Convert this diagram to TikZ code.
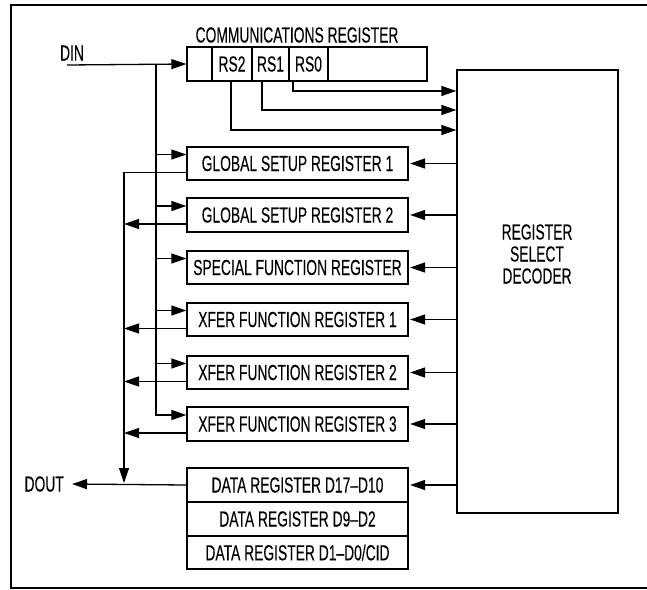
\documentclass[tikz,border=0pt]{standalone}
\usepackage{fontspec}
\setmainfont{Liberation Sans}[FakeStretch=0.635,FakeBold=0.2]
\usetikzlibrary{arrows.meta,calc}
\begin{document}
\begin{tikzpicture}[x=1pt,y=-1pt,
  font=\fontsize{21.8}{22}\selectfont,
  ln/.style={line width=1.3pt, line join=miter},
  arr/.style={ln, -{Triangle[length=15pt,width=10pt]}},
  box/.style={draw, line width=1.3pt, inner sep=0pt, minimum height=33pt},
  reg/.style={box, minimum width=221pt},
  lbl/.style={inner sep=0pt}
]
\useasboundingbox (0,0) rectangle (647,589);
\draw[line width=1.6pt] (648,5) -- (11,5) -- (11,588) -- (648,588);

% communications register
\node[lbl] (title) at (297,35) {COMMUNICATIONS REGISTER};
\node[box, minimum width=25pt, minimum height=34pt] (c0) at (199.5,64) {};
\node[box, minimum width=40pt, minimum height=34pt] (c1) at (232,64) {RS2};
\node[box, minimum width=37pt, minimum height=34pt] (c2) at (270.5,64) {RS1};
\node[box, minimum width=39pt, minimum height=34pt] (c3) at (308.5,64) {RS0};
\node[box, minimum width=99pt, minimum height=34pt] (c4) at (377.5,64) {};

% registers
\node[reg] (gsr1) at (297.5,163.5) {GLOBAL SETUP REGISTER 1};
\node[reg, minimum height=34pt] (gsr2) at (297.5,215) {GLOBAL SETUP REGISTER 2};
\node[reg] (sfr) at (297.5,267.5) {SPECIAL FUNCTION REGISTER};
\node[reg] (x1) at (297.5,319.5) {XFER FUNCTION REGISTER 1};
\node[reg] (x2) at (297.5,372.5) {XFER FUNCTION REGISTER 2};
\node[reg, minimum height=34pt] (x3) at (297.5,424) {XFER FUNCTION REGISTER 3};
\node[reg, minimum height=34pt] (d1) at (297.5,485) {DATA REGISTER D17--D10};
\node[reg, minimum height=34pt] (d2) at (297.5,519) {DATA REGISTER D9--D2};
\node[reg] (d3) at (297.5,552.5) {DATA REGISTER D1--D0/CID};

% decoder
\node[box, minimum width=161pt, minimum height=443pt] (dec) at (537.5,291.5) {};
\node[lbl, align=center] (declbl) at (537,254) {REGISTER\\SELECT\\DECODER};

% DIN / DOUT
\node[lbl] (din) at (72,53) {DIN};
\coordinate (dinstart) at (67,65);
\node[lbl, anchor=east, inner xsep=8pt] (dout) at (72,484) {DOUT};

% input bus
\coordinate (bus) at (156,65);
\draw[arr] (dinstart) -- (c0.west);
\foreach \r in {gsr1,gsr2,sfr,x1,x2,x3}{
  \coordinate (\r in) at ([yshift=9pt]\r.west);
}
\draw[arr] (bus) |- (x3in);
\foreach \r in {gsr1,gsr2,sfr,x1,x2}{
  \draw[arr] (bus |- \r in) -- (\r in);
}

% output bus
\coordinate (obus) at (124,173);
\coordinate (obusend) at (124,483);
\foreach \r in {gsr1,gsr2,x1,x2,x3}{
  \coordinate (\r out) at ([yshift=-9pt]\r.west);
}
\draw[arr] (gsr1out) -| (obusend);
\foreach \r in {gsr2,x1,x2,x3}{
  \draw[arr] (\r out) -- (obus |- \r out);
}
\draw[arr] (d1.west) -- (dout.east);

% RS lines to decoder
\coordinate (rs0y) at (0,91);
\coordinate (rs1y) at (0,110);
\coordinate (rs2y) at (0,130);
\draw[arr] ([xshift=-15.5pt]c3.south) |- (dec.west |- rs0y);
\draw[arr] ([xshift=-8.5pt]c2.south) |- (dec.west |- rs1y);
\draw[arr] ([xshift=-1pt]c1.south) |- (dec.west |- rs2y);

% decoder outputs
\foreach \r in {gsr1,gsr2,sfr,x1,x2,x3,d1}{
  \draw[arr] (dec.west |- \r.east) -- ([xshift=1.5pt]\r.east);
}
\end{tikzpicture}
\end{document}
